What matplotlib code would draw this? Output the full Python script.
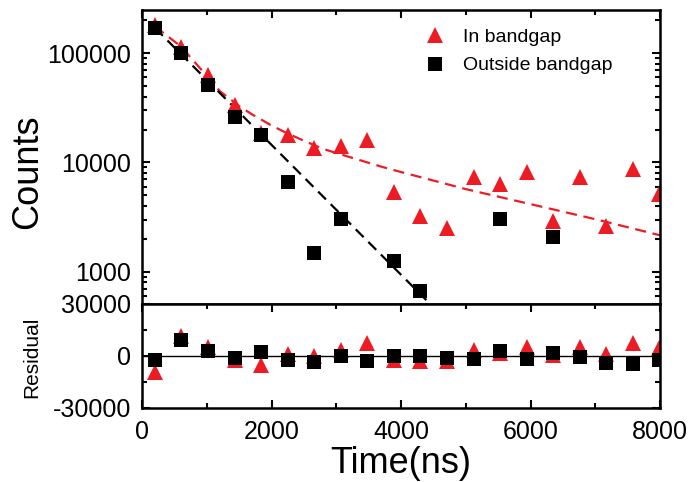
import numpy as np
import matplotlib
matplotlib.use('Agg')
import matplotlib.pyplot as plt
from matplotlib import ticker

plt.rcParams['font.family'] = ['Liberation Sans', 'DejaVu Sans']
plt.rcParams['axes.unicode_minus'] = False

# time axis (ns), same for both series
time_ns = [200, 610, 1020, 1430, 1840, 2250, 2660, 3070, 3480, 3890,
           4300, 4710, 5120, 5530, 5940, 6350, 6760, 7170, 7580, 7990]

# counts (nan = below the visible range)
in_gap = [182000, 113000, 63500, 33600, 18700, 17900, 13500, 14000, 16200, 5330,
          3250, 2540, 7360, 6360, 8120, 2920, 7360, 2630, 8710, 5140]
out_gap = [170000, 101000, 51400, 26300, 17900, 6670, 1500, 3010, np.nan, 1256,
           662, np.nan, np.nan, 3040, np.nan, 2080, np.nan, np.nan, np.nan, np.nan]

# fitted curves
fit_in_t = [200, 600, 1000, 1200, 1500, 1700, 2000, 2200, 2500, 2800, 3000,
            3700, 4000, 5000, 6000, 7000, 8000]
fit_in_v = [176000, 115000, 62000, 45000, 32800, 27500, 21800, 19000, 15800, 13300, 12200,
            9140, 8180, 5710, 4160, 3030, 2160]
fit_out_t = [200, 4500]
fit_out_v = [170000, 475]

# residuals
res_in = [-9500, 11500, 4860, -2160, -5070, 990, 200, 3300, 7400, -2160,
          -3100, -3100, 3300, 1500, 4860, 400, 5270, 1170, 7400, 4270]
res_out = [-2340, 9180, 2730, -1170, 2340, -2150, -3510, 200, -3120, 0,
           -200, -1170, -1560, 2540, -1850, 1560, -780, -4290, -4680, -2540]

red = '#ED1C24'

fig = plt.figure(figsize=(6.93, 4.82), dpi=100)
ax = fig.add_axes([0.2049, 0.3693, 0.7475, 0.61])
axr = fig.add_axes([0.2049, 0.1541, 0.7475, 0.2152], sharex=ax)

# main panel
ax.plot(fit_in_t, fit_in_v, color=red, ls='--', lw=1.6, dashes=(5, 3))
ax.plot(fit_out_t, fit_out_v, color='black', ls='--', lw=1.6, dashes=(5, 3))
ax.plot(time_ns, in_gap, '^', color=red, ms=11, mew=0, label='In bandgap')
ax.plot(time_ns, out_gap, 's', color='black', ms=10, mew=0, label='Outside bandgap')
ax.set_yscale('log')
ax.set_ylim(508, 248000)
ax.set_xlim(0, 8000)
ax.yaxis.set_major_locator(ticker.FixedLocator([1000, 10000, 100000]))
ax.yaxis.set_major_formatter(ticker.FuncFormatter(lambda v, p: '%d' % v))
ax.yaxis.set_minor_locator(ticker.LogLocator(base=10, subs=np.arange(2, 10)))
ax.yaxis.set_minor_formatter(ticker.NullFormatter())
ax.tick_params(axis='both', which='both', direction='in', top=True, right=True,
               bottom=False, labelbottom=False, labelsize=18, width=1.5)
ax.tick_params(which='major', length=6)
ax.tick_params(which='minor', length=3.5)
ax.tick_params(axis='y', pad=8)
ax.legend(loc='upper left', bbox_to_anchor=(0.547, 0.938), frameon=False,
          fontsize=14, borderpad=0, borderaxespad=0, handlelength=1,
          handletextpad=0.94, labelspacing=0.56)

# residual panel
axr.axhline(0, color='black', lw=1)
axr.plot(time_ns, res_in, '^', color=red, ms=11, mew=0)
axr.plot(time_ns, res_out, 's', color='black', ms=10, mew=0)
axr.set_ylim(-30000, 30000)
axr.set_xlim(0, 8000)
axr.set_yticks([-30000, 0, 30000])
axr.yaxis.set_major_formatter(ticker.FuncFormatter(lambda v, p: '%d' % v))
axr.yaxis.set_minor_locator(ticker.MultipleLocator(15000))
axr.xaxis.set_major_locator(ticker.MultipleLocator(2000))
axr.xaxis.set_minor_locator(ticker.MultipleLocator(1000))
axr.tick_params(axis='both', which='both', direction='in', top=True, right=True,
                labelsize=18, width=1.5)
axr.tick_params(which='major', length=6)
axr.tick_params(which='minor', length=3.5)
axr.tick_params(axis='x', pad=9)
axr.tick_params(axis='y', pad=8)
axr.set_xlabel('Time(ns)', fontsize=26, labelpad=1)

for a in (ax, axr):
    for s in a.spines.values():
        s.set_linewidth(1.8)

fig.text(28 / 693, 1 - 172 / 482, 'Counts', rotation=90, ha='center', va='center', fontsize=26)
fig.text(32 / 693, 1 - 357 / 482, 'Residual', rotation=90, ha='center', va='center', fontsize=15)

fig.savefig('out.png', dpi=100)
